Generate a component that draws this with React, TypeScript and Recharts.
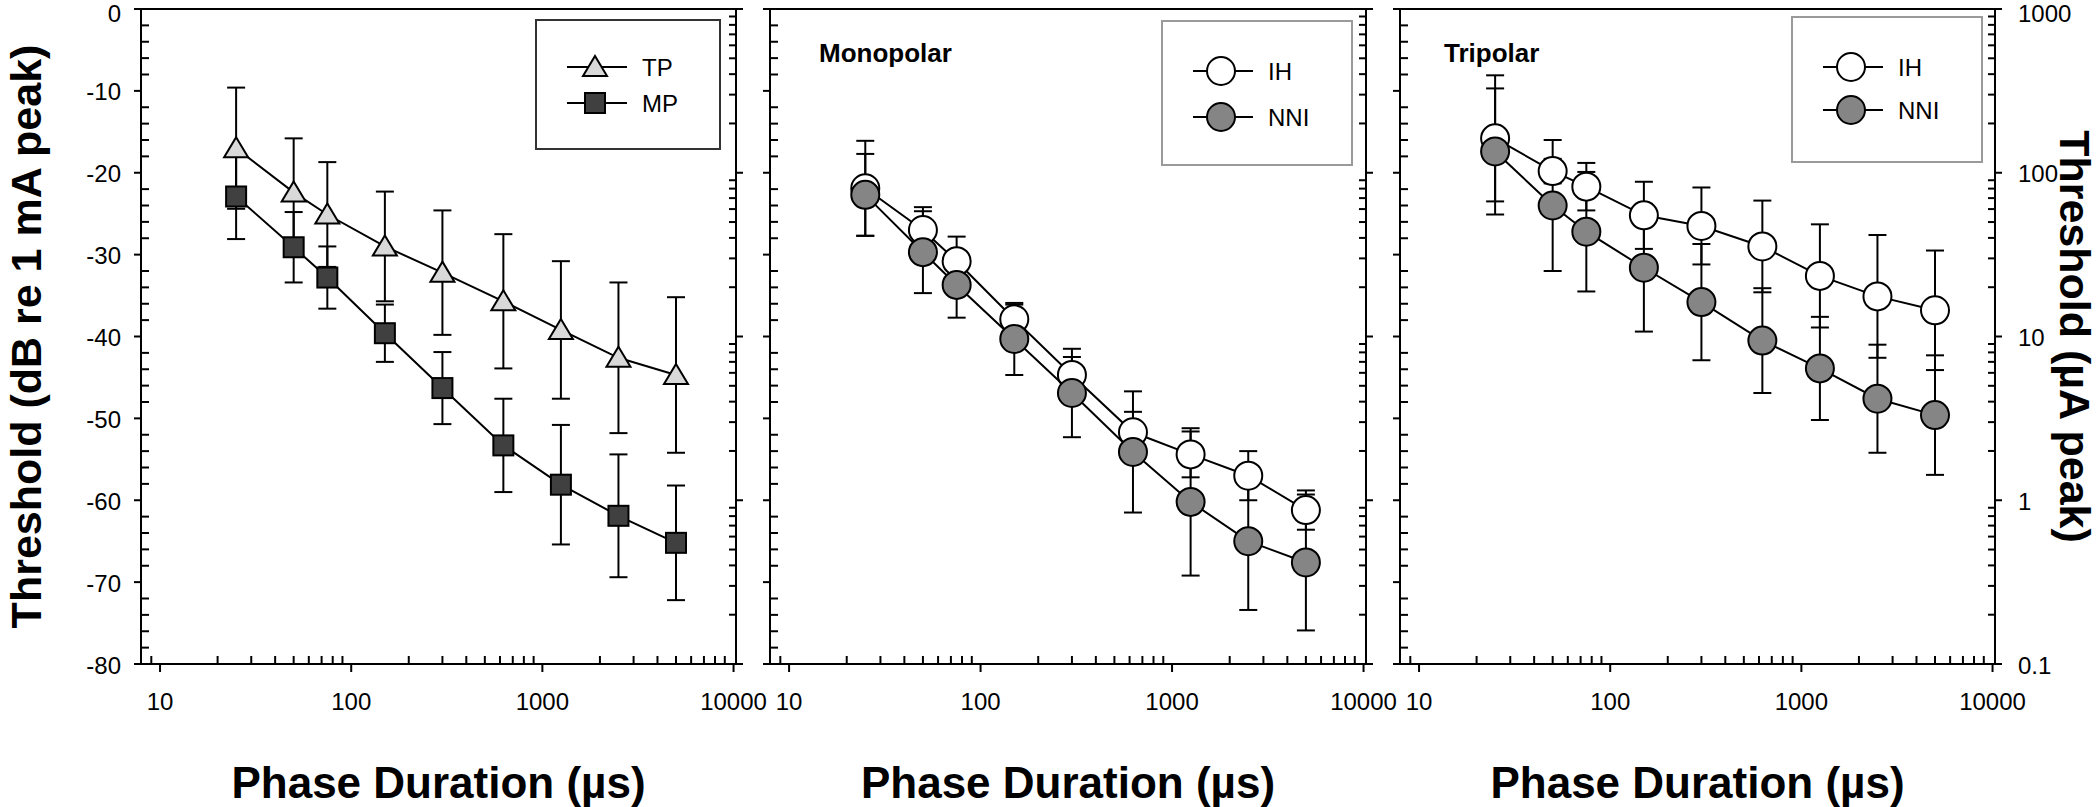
import { ScatterChart, Scatter, XAxis, YAxis, ErrorBar, ReferenceLine, Legend } from 'recharts';

const FONT = "'Liberation Sans', Arial, Helvetica, sans-serif";

// phase durations (µs)
const phaseDur = [25, 50, 75, 150, 300, 625, 1250, 2500, 5000];

// panel 1 : TP vs MP (dB re 1 mA)
const tpMean = [-17.0, -22.4, -25.1, -29.0, -32.2, -35.7, -39.2, -42.6, -44.7];
const tpErr = [7.4, 6.6, 6.4, 6.7, 7.6, 8.2, 8.4, 9.2, 9.5];
const mpMean = [-22.9, -29.1, -32.8, -39.6, -46.3, -53.3, -58.1, -61.9, -65.2];
const mpErr = [5.2, 4.3, 3.8, 3.5, 4.4, 5.7, 7.3, 7.5, 7.0];

// panel 2 : monopolar, IH vs NNI
const monoIhMean = [-21.9, -27.0, -30.8, -37.9, -44.7, -51.7, -54.4, -57.0, -61.2];
const monoIhErr = [5.8, 2.8, 3.0, 1.8, 2.2, 2.5, 2.8, 3.0, 2.4];
const monoNniMean = [-22.7, -29.7, -33.7, -40.3, -46.9, -54.1, -60.2, -65.0, -67.6];
const monoNniErr = [5.0, 5.0, 4.0, 4.4, 5.4, 7.4, 9.0, 8.4, 8.3];

// panel 3 : tripolar, IH vs NNI
const triIhMean = [-15.8, -19.8, -21.7, -25.2, -26.5, -29.0, -32.6, -35.1, -36.8];
const triIhErr = [7.7, 1.5, 2.9, 4.1, 4.7, 5.6, 6.3, 7.5, 7.3];
const triNniMean = [-17.4, -24.0, -27.2, -31.6, -35.8, -40.5, -43.9, -47.6, -49.6];
const triNniErr = [7.7, 8.0, 7.3, 7.8, 7.1, 6.4, 6.3, 6.6, 7.3];

// axis ticks
const xMajor = [10, 100, 1000, 10000];
const xMinor = [9, 20, 30, 40, 50, 60, 70, 80, 90, 200, 300, 400, 500, 600, 700, 800, 900,
  2000, 3000, 4000, 5000, 6000, 7000, 8000, 9000];
const dbMajor = [-80, -70, -60, -50, -40, -30, -20, -10, 0];
const dbMinor = [-78, -76, -74, -72, -68, -66, -64, -62, -58, -56, -54, -52, -48, -46, -44, -42,
  -38, -36, -34, -32, -28, -26, -24, -22, -18, -16, -14, -12, -8, -6, -4, -2];
const uaMajor = [0.1, 1, 10, 100, 1000];
const uaMinor = [0.2, 0.3, 0.4, 0.5, 0.6, 0.7, 0.8, 0.9, 2, 3, 4, 5, 6, 7, 8, 9,
  20, 30, 40, 50, 60, 70, 80, 90, 200, 300, 400, 500, 600, 700, 800, 900];

const PLOT_TOP = 9;
const PLOT_H = 655;
const CHART_H = 807;
const X_DOMAIN = [7.95, 10300];

type Kind = 'triangle' | 'square' | 'open' | 'filled';

const toPoints = (mean: number[], err: number[]) =>
  phaseDur.map((x, i) => ({ x, y: mean[i], err: err[i] }));

function Marker({ kind, cx, cy }: { kind: Kind; cx: number; cy: number }) {
  if (kind === 'triangle') {
    return (
      <path
        d={`M${cx},${cy - 11} L${cx + 12},${cy + 9} L${cx - 12},${cy + 9} Z`}
        fill="#d9d9d9" stroke="#000" strokeWidth={2} strokeLinejoin="miter"
      />
    );
  }
  if (kind === 'square') {
    return <rect x={cx - 10} y={cy - 10} width={20} height={20} fill="#404040" stroke="#000" strokeWidth={2} />;
  }
  return <circle cx={cx} cy={cy} r={14} fill={kind === 'open' ? '#fff' : '#858585'} stroke="#000" strokeWidth={2} />;
}

const XTick = (props: any) => {
  const { x, y, payload } = props;
  const v = payload.value;
  const major = xMajor.includes(v);
  return (
    <g>
      <line x1={x} x2={x} y1={y} y2={major ? y + 8 : y - 8} stroke="#000" strokeWidth={2} />
      {major && (
        <text x={x} y={y + 46} textAnchor="middle" fontSize={24} fontFamily={FONT} fill="#000">
          {v}
        </text>
      )}
    </g>
  );
};

const makeDbTick = (showLabel: boolean) => (props: any) => {
  const { x, y, payload } = props;
  const v = payload.value;
  const major = dbMajor.includes(v);
  // the top label sits a little lower so it stays inside the page
  const dy = v === 0 ? 13 : 9.5;
  return (
    <g>
      <line x1={x} x2={major ? x - 7 : x + 8} y1={y} y2={y} stroke="#000" strokeWidth={2} />
      {major && showLabel && (
        <text x={x - 20} y={y + dy} textAnchor="end" fontSize={24} fontFamily={FONT} fill="#000">
          {v}
        </text>
      )}
    </g>
  );
};

const makeUaTick = (showLabel: boolean) => (props: any) => {
  const { x, y, payload } = props;
  const v = payload.value;
  const major = uaMajor.includes(v);
  const dy = v === 1000 ? 13 : 9.5;
  return (
    <g>
      <line x1={x} x2={major ? x + 7 : x - 7} y1={y} y2={y} stroke="#000" strokeWidth={2} />
      {major && showLabel && (
        <text x={x + 23} y={y + dy} textAnchor="start" fontSize={24} fontFamily={FONT} fill="#000">
          {v}
        </text>
      )}
    </g>
  );
};

type SeriesCfg = { name: string; kind: Kind; mean: number[]; err: number[] };

type LegendCfg = { left: number; top: number; width: number; height: number; border: string; rows: number[] };

type PanelProps = {
  left: number;
  leftW: number;
  plotW: number;
  rightW: number;
  series: SeriesCfg[];
  legend: LegendCfg;
  title?: string;
  titleDx?: number;
  leftLabels?: boolean;
  rightLabels?: boolean;
};

function LegendBox({ cfg, series }: { cfg: LegendCfg; series: SeriesCfg[] }) {
  return (
    <svg width={cfg.width} height={cfg.height} style={{ display: 'block' }}>
      <rect x={1} y={1} width={cfg.width - 2} height={cfg.height - 2} fill="#fff" stroke={cfg.border} strokeWidth={2} />
      {series.map((s, i) => (
        <g key={s.name}>
          <line x1={32} x2={92} y1={cfg.rows[i]} y2={cfg.rows[i]} stroke="#000" strokeWidth={2} />
          <Marker kind={s.kind} cx={60} cy={cfg.rows[i]} />
          <text x={107} y={cfg.rows[i] + 8.5} fontSize={24} fontFamily={FONT} fill="#000">
            {s.name}
          </text>
        </g>
      ))}
    </svg>
  );
}

function Panel({ left, leftW, plotW, rightW, series, legend, title, titleDx = 0, leftLabels, rightLabels }: PanelProps) {
  const width = leftW + plotW + rightW;
  return (
    <div style={{ position: 'absolute', left, top: 0 }}>
      <ScatterChart width={width} height={CHART_H} margin={{ top: PLOT_TOP, right: 0, bottom: 0, left: 0 }}>
        <XAxis
          type="number"
          dataKey="x"
          scale="log"
          domain={X_DOMAIN}
          allowDataOverflow
          ticks={[...xMajor, ...xMinor]}
          interval={0}
          tick={XTick}
          tickLine={false}
          tickSize={0}
          tickMargin={0}
          height={CHART_H - PLOT_TOP - PLOT_H}
          axisLine={{ stroke: '#000', strokeWidth: 2 }}
          label={(p: any) => {
            const vb = p.viewBox;
            return (
              <g>
                <text
                  x={vb.x + vb.width / 2}
                  y={vb.y + 134}
                  textAnchor="middle"
                  fontSize={44}
                  fontWeight={700}
                  fontFamily={FONT}
                  fill="#000"
                >
                  Phase Duration (µs)
                </text>
                {title && (
                  <text x={vb.x + titleDx} y={62} fontSize={26} fontWeight={700} fontFamily={FONT} fill="#000">
                    {title}
                  </text>
                )}
              </g>
            );
          }}
        />
        <YAxis
          yAxisId="db"
          type="number"
          dataKey="y"
          domain={[-80, 0]}
          allowDataOverflow
          ticks={[...dbMajor, ...dbMinor]}
          interval={0}
          tick={makeDbTick(!!leftLabels)}
          tickLine={false}
          tickSize={0}
          tickMargin={0}
          width={leftW}
          axisLine={{ stroke: '#000', strokeWidth: 2 }}
          label={
            leftLabels
              ? (p: any) => {
                  const vb = p.viewBox;
                  const cy = vb.y + vb.height / 2;
                  return (
                    <text
                      x={vb.x + 41}
                      y={cy}
                      transform={`rotate(-90 ${vb.x + 41} ${cy})`}
                      textAnchor="middle"
                      fontSize={43}
                      fontWeight={700}
                      fontFamily={FONT}
                      fill="#000"
                    >
                      Threshold (dB re 1 mA peak)
                    </text>
                  );
                }
              : undefined
          }
        />
        <YAxis
          yAxisId="ua"
          orientation="right"
          type="number"
          scale="log"
          domain={[0.1, 1000]}
          allowDataOverflow
          ticks={[...uaMajor, ...uaMinor]}
          interval={0}
          tick={makeUaTick(!!rightLabels)}
          tickLine={false}
          tickSize={0}
          tickMargin={0}
          width={rightW}
          axisLine={{ stroke: '#000', strokeWidth: 2 }}
          label={
            rightLabels
              ? (p: any) => {
                  const vb = p.viewBox;
                  const cy = vb.y + vb.height / 2;
                  return (
                    <text
                      x={vb.x + 65}
                      y={cy}
                      transform={`rotate(90 ${vb.x + 65} ${cy})`}
                      textAnchor="middle"
                      fontSize={43}
                      fontWeight={700}
                      fontFamily={FONT}
                      fill="#000"
                    >
                      Threshold (µA peak)
                    </text>
                  );
                }
              : undefined
          }
        />
        <ReferenceLine yAxisId="db" y={0} stroke="#000" strokeWidth={2} />
        {series.map((s) => (
          <Scatter
            key={s.name}
            name={s.name}
            yAxisId="db"
            data={toPoints(s.mean, s.err)}
            line={{ stroke: '#000', strokeWidth: 2 }}
            lineType="joint"
            fill="#000"
            isAnimationActive={false}
            shape={(p: any) => <Marker kind={s.kind} cx={p.cx} cy={p.cy} />}
          >
            <ErrorBar dataKey="err" direction="y" width={9} stroke="#000" strokeWidth={2} isAnimationActive={false} />
          </Scatter>
        ))}
        <Legend
          layout="horizontal"
          align="center"
          verticalAlign="middle"
          wrapperStyle={{ position: 'absolute', left: legend.left, top: legend.top, width: legend.width, height: legend.height }}
          content={() => <LegendBox cfg={legend} series={series} />}
        />
      </ScatterChart>
    </div>
  );
}

export default function App() {
  return (
    <div style={{ position: 'absolute', left: 0, top: 0, width: 2100, height: 807, background: '#fff', overflow: 'hidden' }}>
      <style>{'.recharts-surface { overflow: visible; }'}</style>
      <Panel
        left={0}
        leftW={141}
        plotW={595}
        rightW={17}
        leftLabels
        series={[
          { name: 'TP', kind: 'triangle', mean: tpMean, err: tpErr },
          { name: 'MP', kind: 'square', mean: mpMean, err: mpErr },
        ]}
        legend={{ left: 535, top: 19, width: 186, height: 131, border: '#333', rows: [48, 84] }}
      />
      <Panel
        left={753}
        leftW={17}
        plotW={596}
        rightW={16}
        title="Monopolar"
        titleDx={49}
        series={[
          { name: 'IH', kind: 'open', mean: monoIhMean, err: monoIhErr },
          { name: 'NNI', kind: 'filled', mean: monoNniMean, err: monoNniErr },
        ]}
        legend={{ left: 408, top: 20, width: 192, height: 146, border: '#9a9a9a', rows: [51, 97] }}
      />
      <Panel
        left={1382}
        leftW={18}
        plotW={595}
        rightW={105}
        rightLabels
        title="Tripolar"
        titleDx={44}
        series={[
          { name: 'IH', kind: 'open', mean: triIhMean, err: triIhErr },
          { name: 'NNI', kind: 'filled', mean: triNniMean, err: triNniErr },
        ]}
        legend={{ left: 409, top: 16, width: 192, height: 147, border: '#9a9a9a', rows: [51, 94] }}
      />
    </div>
  );
}
